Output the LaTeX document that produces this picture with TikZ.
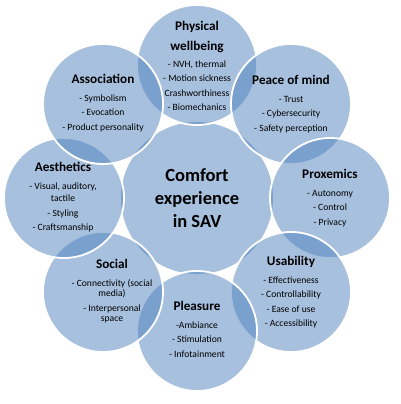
\documentclass[tikz,border=0pt]{standalone}
\usepackage{fontspec}
\setmainfont{Carlito}
\definecolor{bubbleblue}{RGB}{79,129,189}
\tikzset{
  bubble/.style={circle, draw=white, line width=1.8pt, fill=bubbleblue, fill opacity=0.5, minimum size=120pt, inner sep=0pt},
  hub/.style={bubble, minimum size=154pt},
  facet/.style={align=center, font=\fontsize{9.6}{14.5}\selectfont, inner sep=0pt},
  hubtext/.style={align=center, font=\fontsize{18.5}{23}\selectfont\bfseries, inner sep=0pt}
}
\newcommand{\facethead}[1]{{\fontsize{13.2}{14}\selectfont\bfseries #1}}
\begin{document}
\begin{tikzpicture}[x=1pt,y=-1pt]
	\useasboundingbox (0,0) rectangle (400,404);
	% centre and the eight facets, clockwise from the top
	\node[hub] (c-hub) at (197,198) {};
	\foreach \name/\pos in {phys/{(197,65)}, peace/{(291,104)}, prox/{(330,198)}, usab/{(291,292)},
	                        pleas/{(197,331)}, social/{(103,292)}, aesth/{(64,198)}, assoc/{(103,104)}}
		\node[bubble] (c-\name) at \pos {};
	% texts
	\node[hubtext] (t-hub) at (c-hub) {Comfort\\experience\\in SAV};
	\node[facet] (t-phys) at ([yshift=-1pt]c-phys) {\facethead{Physical}\\[5.5pt]\facethead{wellbeing}\\[2.5pt]- NVH, thermal\\- Motion sickness\\Crashworthiness\\- Biomechanics};
	\node[facet] (t-peace) at (c-peace) {\facethead{Peace of mind}\\[3.5pt]- Trust\\- Cybersecurity\\- Safety perception};
	\node[facet] (t-prox) at (c-prox) {\facethead{Proxemics}\\[3.5pt]- Autonomy\\- Control\\- Privacy};
	\node[facet] (t-usab) at (c-usab) {\facethead{Usability}\\[3.5pt]- Effectiveness\\- Controllability\\- Ease of use\\- Accessibility};
	\node[facet] (t-pleas) at ([yshift=2pt]c-pleas) {\facethead{Pleasure}\\[3.5pt]-Ambiance\\- Stimulation\\- Infotainment};
	\node[facet] (t-social) at ([xshift=9pt,yshift=1pt]c-social) {\facethead{Social}\\[3.5pt]- Connectivity (social\\[-4pt]media)\\- Interpersonal\\[-4pt]space};
	\node[facet] (t-aesth) at ([xshift=-1pt,yshift=1pt]c-aesth) {\facethead{Aesthetics}\\[3.5pt]- Visual, auditory,\\[-2pt]tactile\\- Styling\\- Craftsmanship};
	\node[facet] (t-assoc) at ([yshift=1pt]c-assoc) {\facethead{Association}\\[3.5pt]- Symbolism\\- Evocation\\- Product personality};
\end{tikzpicture}
\end{document}
